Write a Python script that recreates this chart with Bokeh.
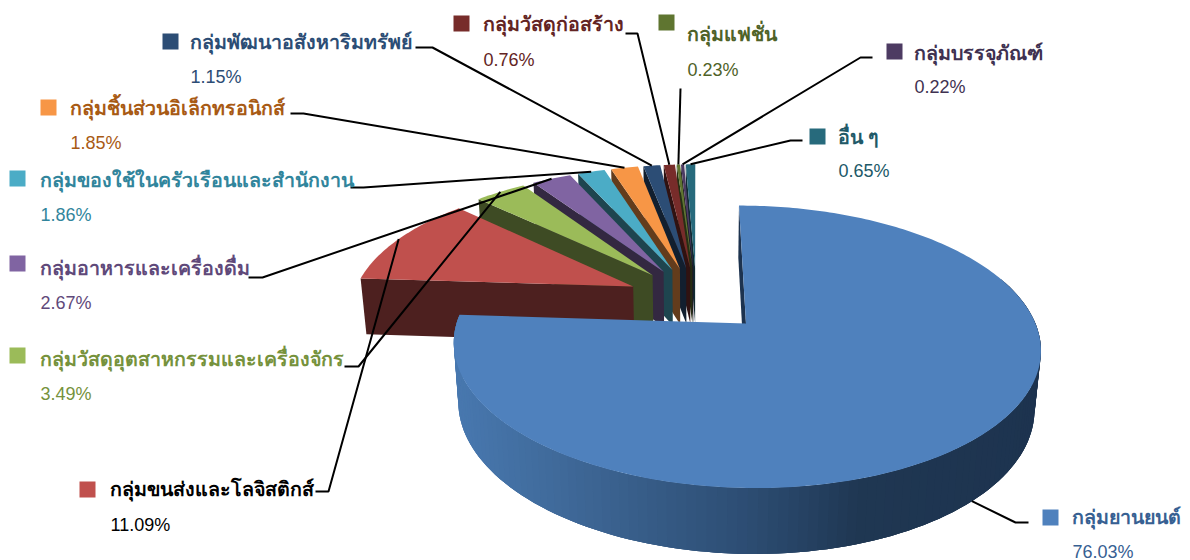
import numpy as np
from bokeh.plotting import figure
from bokeh.models import ColumnDataSource
from bokeh.core.properties import value
from bokeh.embed import file_html
from bokeh.resources import INLINE

# ---- data
categories = ["กลุ่มยานยนต์", "กลุ่มขนส่งและโลจิสติกส์", "กลุ่มวัสดุอุตสาหกรรมและเครื่องจักร",
              "กลุ่มอาหารและเครื่องดื่ม", "กลุ่มของใช้ในครัวเรือนและสำนักงาน",
              "กลุ่มชิ้นส่วนอิเล็กทรอนิกส์", "กลุ่มพัฒนาอสังหาริมทรัพย์", "กลุ่มวัสดุก่อสร้าง",
              "กลุ่มแฟชั่น", "กลุ่มบรรจุภัณฑ์", "อื่น ๆ"]
shares = [76.03, 11.09, 3.49, 2.67, 1.86, 1.85, 1.15, 0.76, 0.23, 0.22, 0.65]

# ---- styles
colors = ["#4F81BD", "#C0504D", "#9BBB59", "#8064A2", "#4BACC6", "#F79646",
          "#2C4D75", "#772C2A", "#5F7530", "#4D3B62", "#276A7C"]
text_colors = ["#376092", "#000000", "#76923C", "#5F497A", "#31859C", "#A85A14",
               "#2C4D75", "#632423", "#4F6228", "#3F3151", "#215968"]
wall_shade = 0.4
grad_x = [455, 600, 740, 850, 1040]
grad_rgb = [(72, 120, 175), (59, 98, 143), (44, 76, 114), (31, 55, 82), (29, 51, 79)]

# ---- layout
cx, cy, B, A, k, s, H, expl = 696.0, 298.7, 281.0, 129.5, 0.16, 0.018, 58.0, 0.25
sq_x = [1042, 79, 9, 9, 9, 40, 162, 453, 658, 886, 809]
sq_y = [509, 481, 347, 255, 170, 99, 33, 15, 14, 43, 128]
sq_size = 16
name_x = [1071, 109, 39, 39, 39, 69, 189, 482, 686, 913, 837]
name_y = [516, 488, 358, 267, 179, 107, 41, 23, 33, 52, 136]
pct_x = [1072, 110, 40, 40, 40, 70, 190, 483, 687, 914, 838]
pct_y = [551, 524, 393, 302, 214, 142, 76, 59, 69, 86, 170]
lead_x = [[1028, 1015], [315, 328], [344, 358], [248, 262], [350, 363], [290, 303],
          [415, 432], [625, 637], [680], [872, 860], [802, 790]]
lead_y = [[522, 522], [491, 491], [366, 366], [277, 277], [187, 187], [113, 113],
          [47, 47], [33, 33], [88], [57, 57], [140, 140]]
font = value("Liberation Sans")
name_size = "19.6px"
pct_size = "18px"


def proj(X, Y, z=0.0):
    X, Y = np.asarray(X, float), np.asarray(Y, float)
    den = 1 + k * Y + s * z
    return cx + B * X / den, cy + (H * z - A * Y) / den


def rgb_hex(c):
    return "#%02x%02x%02x" % tuple(int(round(v)) for v in c)


def shade(hexcol, f):
    return rgb_hex([int(hexcol[i:i + 2], 16) * f for i in (1, 3, 5)])


p = figure(width=1190, height=560, x_range=(0, 1190), y_range=(560, 0),
           output_backend="svg", toolbar_location=None, min_border=0,
           outline_line_color=None, background_fill_color="white")
p.axis.visible = False
p.grid.visible = False

bounds = np.cumsum([0] + shares) / sum(shares) * 2 * np.pi
slices = []
for i in range(len(shares)):
    a0, a1 = bounds[i], bounds[i + 1]
    mid = (a0 + a1) / 2
    slices.append(dict(a0=a0, a1=a1, mid=mid, ox=expl * np.sin(mid), oy=expl * np.cos(mid)))

xs, ys, fills = [], [], []


def add(px, py, col):
    xs.append(list(np.round(px, 2)))
    ys.append(list(np.round(py, 2)))
    fills.append(col)


def draw_slice(i):
    sl = slices[i]
    th = np.linspace(sl["a0"], sl["a1"], max(6, int((sl["a1"] - sl["a0"]) * 60)))
    X, Y = sl["ox"] + np.sin(th), sl["oy"] + np.cos(th)
    # start-edge wall
    ex = [sl["ox"], X[0], X[0], sl["ox"]]
    ey = [sl["oy"], Y[0], Y[0], sl["oy"]]
    ez = [0, 0, 1, 1]
    wx, wy = zip(*[proj(a, b, c) for a, b, c in zip(ex, ey, ez)])
    add(wx, wy, shade(colors[i], wall_shade) if i else rgb_hex(grad_rgb[-1]))
    if i == 0:
        # outer rim, shaded left to right; each band overlaps the next one to hide seams
        vis = np.linspace(np.radians(70), sl["a1"], 120)
        rx, ry = sl["ox"] + np.sin(vis), sl["oy"] + np.cos(vis)
        for j in range(len(vis) - 1):
            e = min(j + 3, len(vis) - 1)
            arc = np.arange(j, e + 1)
            qx = np.r_[rx[arc], rx[arc][::-1]]
            qy = np.r_[ry[arc], ry[arc][::-1]]
            qz = np.r_[np.zeros(len(arc)), np.ones(len(arc))]
            px, py = proj(qx, qy, qz)
            m = np.mean(px)
            c = [np.interp(m, grad_x, [g[n] for g in grad_rgb]) for n in range(3)]
            add(px, py, rgb_hex(c))
    # top face
    px, py = proj(np.r_[sl["ox"], X], np.r_[sl["oy"], Y])
    add(px, py, colors[i])


for i in list(range(1, len(shares)))[::-1]:
    draw_slice(i)
draw_slice(0)

src = ColumnDataSource(dict(xs=xs, ys=ys, fill=fills))
p.patches("xs", "ys", source=src, fill_color="fill", line_color=None)

# leader lines, ending on the rim of their slice
for i, sl in enumerate(slices):
    X, Y = sl["ox"] + np.sin(sl["mid"]), sl["oy"] + np.cos(sl["mid"])
    ax, ay = proj(X, Y, 1.0 if i == 0 else 0.0)
    p.line(lead_x[i] + [float(ax)], lead_y[i] + [float(ay)], line_color="black", line_width=2)

# legend squares and labels
p.rect([x + sq_size / 2 for x in sq_x], [y + sq_size / 2 for y in sq_y], sq_size, sq_size,
       fill_color=colors, line_color=None)
p.text(name_x, name_y, text=categories, text_color=text_colors, text_font=font,
       text_font_size=value(name_size), text_font_style="bold",
       text_baseline="middle", text_align="left")
p.text(pct_x, pct_y, text=["%.2f%%" % v for v in shares], text_color=text_colors, text_font=font,
       text_font_size=value(pct_size), text_baseline="middle", text_align="left")

open("out.html", "w").write(file_html(p, INLINE))
